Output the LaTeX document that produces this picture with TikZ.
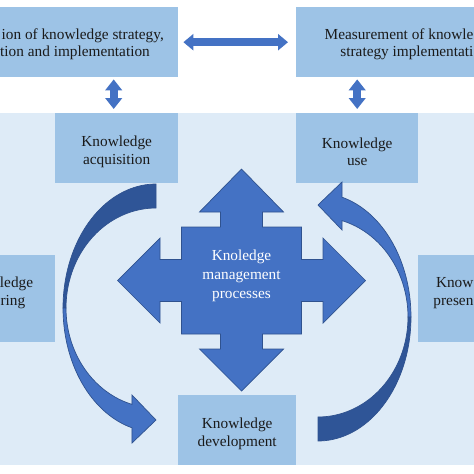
\documentclass[tikz,border=0pt]{standalone}
\usepackage{fontspec}
\setmainfont{Liberation Serif}
\usetikzlibrary{arrows.meta,calc}
\definecolor{boxblue}{HTML}{9DC3E6}
\definecolor{bgblue}{HTML}{DEEBF7}
\definecolor{arrowblue}{HTML}{4472C4}
\definecolor{arrowedge}{HTML}{2F528F}
\definecolor{arrowdark}{HTML}{2F5597}
\definecolor{txtdark}{HTML}{1A1A1A}
\begin{document}
\begin{tikzpicture}[x=1pt,y=-1pt,
  box/.style={fill=boxblue, draw=none, rectangle, inner sep=0pt, anchor=north west},
  txt/.style={font=\fontsize{15.3}{17.5}\selectfont, align=center, text=txtdark, inner sep=0pt},
  frag/.style={font=\fontsize{15.3}{17.5}\selectfont, text=txtdark, inner sep=0pt},
  dblarrow/.style={draw=arrowblue, line width=8pt, {Triangle[width=16pt,length=10pt]}-{Triangle[width=16pt,length=10pt]}},
  bigarrow/.style={fill=arrowblue, draw=arrowedge, line width=0.7pt, line join=miter},
  curvdark/.style={fill=arrowdark, draw=arrowedge, line width=0.7pt},
  curvlight/.style={fill=arrowblue, draw=arrowedge, line width=0.7pt}]
\useasboundingbox (0,0) rectangle (474,474);
\clip (0,0) rectangle (474,474);
\fill[white] (0,0) rectangle (474,474);
\fill[bgblue] (-10,113) rectangle (490,465);
% boxes
\node[box, minimum width=200pt, minimum height=70pt] (tl) at (-22,7) {};
\node[box, minimum width=200pt, minimum height=70pt] (tr) at (296,7) {};
\node[box, minimum width=123pt, minimum height=70pt] (ka) at (55,113) {};
\node[box, minimum width=122pt, minimum height=70pt] (ku) at (296,113) {};
\node[box, minimum width=118pt, minimum height=70pt] (kd) at (178,395) {};
\node[box, minimum width=75pt, minimum height=87pt] (ks) at (-20,255) {};
\node[box, minimum width=72pt, minimum height=87pt] (kp) at (418,255) {};
% texts
\node[frag, anchor=base east] (tl1) at (164,39) {ion of knowledge strategy,};
\node[frag, anchor=base east] (tl2) at (150,56) {tion and implementation};
\node[frag, anchor=base east] (tr1) at (473.6,39) {Measurement of knowle};
\node[frag, anchor=base east] (tr2) at (473.6,56) {strategy implementati};
\node[frag, anchor=base east] (ks1) at (33.3,287) {ledge};
\node[frag, anchor=base west] (ks2) at (0.4,305) {ring};
\node[frag, anchor=base east] (kp1) at (473.6,287) {Know};
\node[frag, anchor=base east] (kp2) at (473.6,305) {presen};
\node[txt] (kat) at ($(ka.center)+(0,3.6)$) {Knowledge\\acquisition};
\node[txt] (kut) at ($(ku.center)+(0,3.6)$) {Knowledge\\use};
\node[txt] (kdt) at ($(kd.center)+(0,3.6)$) {Knowledge\\development};
% double arrows
\draw[dblarrow, shorten <=5pt, shorten >=8pt] (tl.east) -- (tr.west);
\draw[dblarrow, {Triangle[width=16.5pt,length=11pt]}-{Triangle[width=16.5pt,length=11pt]}, shorten <=2pt, shorten >=4pt]
  ($(tl.south -| ka.north)+(-3,0)$) -- ($(ka.north)+(-3,0)$);
\draw[dblarrow, {Triangle[width=16.5pt,length=11pt]}-{Triangle[width=16.5pt,length=11pt]}, shorten <=2pt, shorten >=4pt]
  (tr.south -| ku.north) -- (ku.north);
% central cross
\filldraw[bigarrow] (241.5,169) -- (283.5,212) -- (262.5,212) -- (262.5,227) -- (301.5,227)
  -- (301.5,259.5) -- (323,259.5) -- (323,238) -- (365.5,280.5) -- (323,323) -- (323,301.5)
  -- (301.5,301.5) -- (301.5,334) -- (262.5,334) -- (262.5,349) -- (283.5,349) -- (241.5,391)
  -- (199.5,349) -- (220.5,349) -- (220.5,334) -- (181.5,334) -- (181.5,301.5) -- (160,301.5)
  -- (160,323) -- (117.5,280.5) -- (160,238) -- (160,259.5) -- (181.5,259.5) -- (181.5,227)
  -- (220.5,227) -- (220.5,212) -- (199.5,212) -- cycle;
\node[txt, text=white, font=\fontsize{15.3}{19}\selectfont] (kmp) at (241.5,275.5) {Knoledge\\management\\processes};
% left curved arrow
\filldraw[curvdark] plot[domain=90:180,samples=40,variable=\t] ({156+93*cos(\t)},{308-124*sin(\t)})
  -- plot[domain=180:90,samples=40,variable=\t] ({156+90*cos(\t)},{308-100*sin(\t)}) -- cycle;
\filldraw[curvlight] plot[domain=180:255,samples=40,variable=\t] ({156+93*cos(\t)},{308-124*sin(\t)})
  -- (132,443) -- (156,420) -- (132,395)
  -- plot[domain=254.5:180,samples=40,variable=\t] ({156+90*cos(\t)},{308-100*sin(\t)}) -- cycle;
% right curved arrow
\filldraw[curvdark] plot[domain=90:180,samples=40,variable=\t] ({318-93*cos(\t)},{317+124*sin(\t)})
  -- plot[domain=180:90,samples=40,variable=\t] ({318-90*cos(\t)},{317+100*sin(\t)}) -- cycle;
\filldraw[curvlight] plot[domain=180:255,samples=40,variable=\t] ({318-93*cos(\t)},{317+124*sin(\t)})
  -- (342,182) -- (318,205) -- (342,230)
  -- plot[domain=254.5:180,samples=40,variable=\t] ({318-90*cos(\t)},{317+100*sin(\t)}) -- cycle;
\end{tikzpicture}
\end{document}
